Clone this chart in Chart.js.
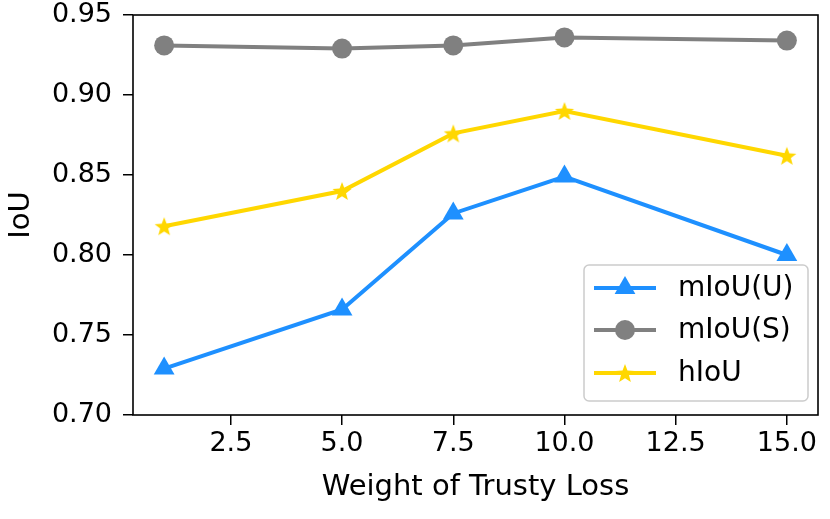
<!DOCTYPE html>
<html>
<head>
<meta charset="utf-8">
<script src="https://cdn.jsdelivr.net/npm/chart.js@4"></script>
<style>
  html, body { margin: 0; padding: 0; background: #fff; }
  #wrap { width: 830px; height: 519px; }
</style>
</head>
<body>
<div id="wrap"><canvas id="myChart"></canvas></div>
<script>
// data
const weights = [1, 5, 7.5, 10, 15];
const mIoUU = [0.729, 0.766, 0.826, 0.849, 0.800];
const mIoUS = [0.931, 0.929, 0.931, 0.936, 0.934];
const hIoU = [0.818, 0.840, 0.876, 0.890, 0.862];
const xTicks = [2.5, 5.0, 7.5, 10.0, 12.5, 15.0];
const yTicks = [0.70, 0.75, 0.80, 0.85, 0.90, 0.95];

const FONT = "'DejaVu Sans', sans-serif";
const TICK_SIZE = 27;
const TITLE_SIZE = 29;
const LEGEND_SIZE = 28;

// filled five point star, like matplotlib '*'
function makeStar(color, outer, inner) {
     const c = document.createElement("canvas");
     const s = Math.ceil(outer * 2 + 2);
     c.width = s;
     c.height = s;
     const g = c.getContext("2d");
     g.fillStyle = color;
     g.beginPath();
     for (let i = 0; i < 10; i++) {
          const r = i % 2 === 0 ? outer : inner;
          const a = -Math.PI / 2 + i * Math.PI / 5;
          const px = s / 2 + r * Math.cos(a);
          const py = s / 2 + 1 + r * Math.sin(a);
          if (i === 0) g.moveTo(px, py);
          else g.lineTo(px, py);
     }
     g.closePath();
     g.fill();
     return c;
}
const starImg = makeStar("#FFD700", 10, 4.2);

function toPoints(ys) {
     let pts = [];
     for (let i = 0; i < weights.length; i++) {
          pts.push({ x: weights[i], y: ys[i] });
     }
     return pts;
}

const boxPlugin = {
     id: "box",
     afterDraw(chart) {
          const ctx = chart.ctx;
          const a = chart.chartArea;
          ctx.save();
          ctx.strokeStyle = "#000";
          ctx.lineWidth = 1.6;
          ctx.strokeRect(a.left, a.top, a.right - a.left, a.bottom - a.top);

          // legend in the lower right corner, inside the axes
          const bx = 584, by = 265, bw = 224, bh = 136;
          ctx.fillStyle = "rgba(255,255,255,0.8)";
          ctx.strokeStyle = "#cccccc";
          ctx.lineWidth = 1.5;
          ctx.beginPath();
          ctx.roundRect(bx, by, bw, bh, 5);
          ctx.fill();
          ctx.stroke();

          const rows = [288, 330, 373];
          ctx.font = LEGEND_SIZE + "px " + FONT;
          ctx.textBaseline = "middle";
          chart.data.datasets.forEach(function (ds, i) {
               const y = rows[i];
               ctx.strokeStyle = ds.borderColor;
               ctx.lineWidth = ds.borderWidth;
               ctx.beginPath();
               ctx.moveTo(594, y);
               ctx.lineTo(656, y);
               ctx.stroke();
               ctx.fillStyle = ds.pointBackgroundColor;
               Chart.helpers.drawPoint(ctx, {
                    pointStyle: ds.pointStyle,
                    radius: ds.pointRadius,
                    rotation: 0,
                    borderWidth: 0
               }, 625, y);
               ctx.fillStyle = "#000";
               ctx.fillText(ds.label, 678, y + 1);
          });
          ctx.restore();
     }
};

const ctx = document.getElementById("myChart").getContext("2d");
ctx.canvas.width = 830;
ctx.canvas.height = 519;

var chart = new Chart(ctx, {
     type: "line",
     data: {
          datasets: [
               {
                    label: "mIoU(U)",
                    data: toPoints(mIoUU),
                    borderColor: "#1E90FF",
                    backgroundColor: "#1E90FF",
                    pointBackgroundColor: "#1E90FF",
                    pointBorderColor: "#1E90FF",
                    pointStyle: "triangle",
                    pointRadius: 12,
                    pointBorderWidth: 0,
                    borderWidth: 4,
                    fill: false
               },
               {
                    label: "mIoU(S)",
                    data: toPoints(mIoUS),
                    borderColor: "#808080",
                    backgroundColor: "#808080",
                    pointBackgroundColor: "#808080",
                    pointBorderColor: "#808080",
                    pointStyle: "circle",
                    pointRadius: 10,
                    pointBorderWidth: 0,
                    borderWidth: 4,
                    fill: false
               },
               {
                    label: "hIoU",
                    data: toPoints(hIoU),
                    borderColor: "#FFD700",
                    backgroundColor: "#FFD700",
                    pointBackgroundColor: "#FFD700",
                    pointBorderColor: "#FFD700",
                    pointStyle: starImg,
                    pointRadius: 10,
                    pointBorderWidth: 0,
                    borderWidth: 4,
                    fill: false
               }
          ]
     },
     options: {
          responsive: false,
          animation: false,
          events: [],
          layout: { padding: { top: 15, right: 4, left: 0, bottom: 14 } },
          plugins: {
               legend: { display: false },
               tooltip: { enabled: false }
          },
          scales: {
               x: {
                    type: "linear",
                    min: 0.3,
                    max: 15.7,
                    afterBuildTicks: function (scale) {
                         scale.ticks = xTicks.map(function (v) { return { value: v }; });
                    },
                    afterFit: function (scale) {
                         scale.height = 90;
                         scale.paddingLeft = 0;
                         scale.paddingRight = 0;
                    },
                    border: { display: false },
                    grid: {
                         drawOnChartArea: false,
                         color: "#000",
                         lineWidth: 1.5,
                         tickLength: 10
                    },
                    ticks: {
                         color: "#000",
                         padding: 3,
                         font: { family: FONT, size: TICK_SIZE },
                         maxRotation: 0,
                         callback: function (v) { return Number(v).toFixed(1); }
                    },
                    title: {
                         display: true,
                         text: "Weight of Trusty Loss",
                         color: "#000",
                         font: { family: FONT, size: TITLE_SIZE },
                         padding: { top: 0, bottom: 0 }
                    }
               },
               y: {
                    min: 0.70,
                    max: 0.95,
                    afterBuildTicks: function (scale) {
                         scale.ticks = yTicks.map(function (v) { return { value: v }; });
                    },
                    afterFit: function (scale) {
                         scale.width = 133;
                         scale.paddingTop = 0;
                         scale.paddingBottom = 0;
                    },
                    border: { display: false },
                    grid: {
                         drawOnChartArea: false,
                         color: "#000",
                         lineWidth: 1.5,
                         tickLength: 10
                    },
                    ticks: {
                         color: "#000",
                         padding: 11,
                         font: { family: FONT, size: TICK_SIZE },
                         callback: function (v) { return Number(v).toFixed(2); }
                    },
                    title: {
                         display: true,
                         text: "IoU",
                         color: "#000",
                         font: { family: FONT, size: TITLE_SIZE },
                         padding: { top: 4, bottom: 0 }
                    }
               }
          }
     },
     plugins: [boxPlugin]
});
</script>
</body>
</html>
